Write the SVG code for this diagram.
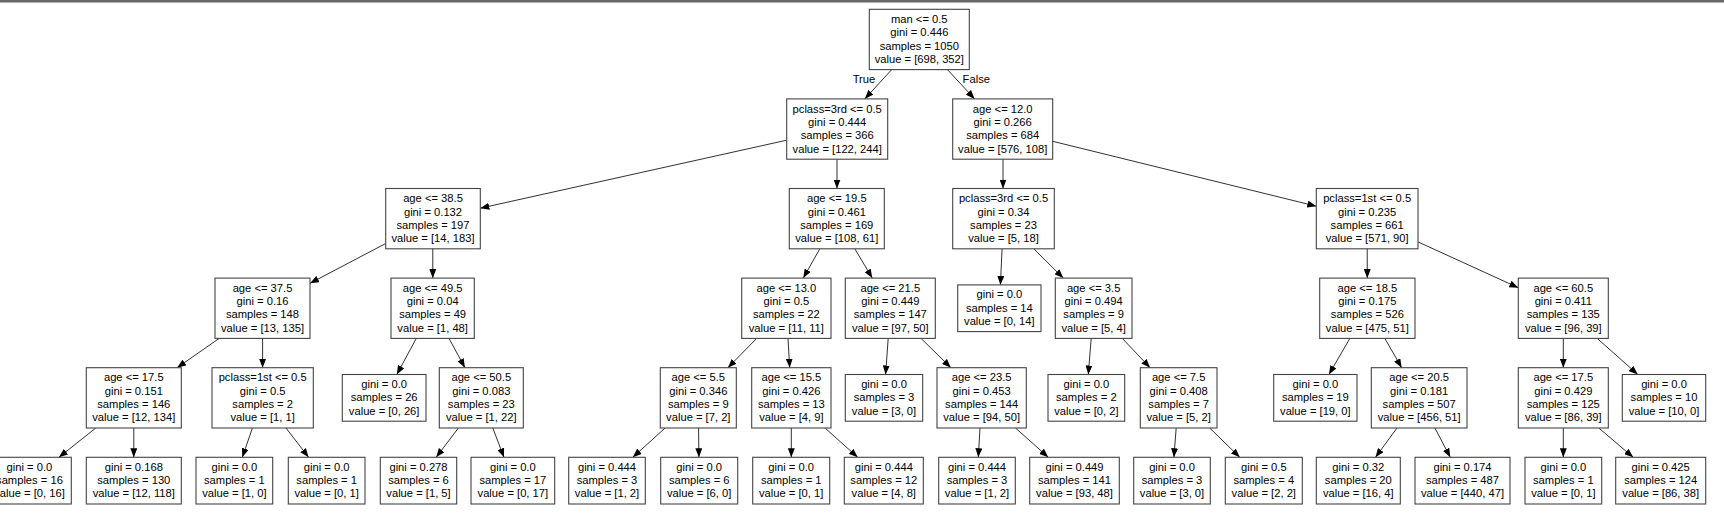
<svg xmlns="http://www.w3.org/2000/svg" width="1724" height="520" viewBox="0 0 1724 520">
<style>
.node rect{fill:#fff;stroke:#444;stroke-width:1.1}
text{font-family:"Liberation Sans",Arial,Helvetica,sans-serif;font-size:11.2px;fill:#000;text-anchor:middle}
#edges line{stroke:#1a1a1a;stroke-width:0.9;marker-end:url(#ah)}
</style>
<defs>
<marker id="ah" markerUnits="userSpaceOnUse" markerWidth="9" markerHeight="7" refX="9" refY="3.5" orient="auto"><path d="M0,0 L9,3.5 L0,7 z" fill="#000"/></marker>
</defs>
<rect x="0" y="0" width="1724" height="520" fill="#fff"/>
<rect x="0" y="0" width="1724" height="2.5" fill="#666"/>
<g id="edges">
<line x1="891.7" y1="69.6" x2="864.8" y2="98.9"/>
<line x1="947.4" y1="69.6" x2="974.6" y2="98.9"/>
<line x1="786.7" y1="140.2" x2="480.3" y2="208.2"/>
<line x1="837" y1="159.2" x2="837" y2="188.5"/>
<line x1="1003" y1="159.2" x2="1003" y2="188.5"/>
<line x1="1052.7" y1="141.3" x2="1316.3" y2="206.2"/>
<line x1="385.7" y1="243.5" x2="310" y2="283.3"/>
<line x1="432.8" y1="248.8" x2="432.8" y2="278.1"/>
<line x1="819.8" y1="248.8" x2="803.3" y2="278.1"/>
<line x1="854.8" y1="248.8" x2="872.3" y2="278.1"/>
<line x1="1002.1" y1="248.8" x2="1000.4" y2="284.9"/>
<line x1="1033.8" y1="248.8" x2="1063.3" y2="278.1"/>
<line x1="1367.2" y1="248.8" x2="1367.3" y2="278.1"/>
<line x1="1418" y1="241.9" x2="1518.3" y2="287.7"/>
<line x1="219.2" y1="338.4" x2="177.1" y2="367.7"/>
<line x1="262.6" y1="338.4" x2="262.6" y2="367.7"/>
<line x1="416.3" y1="338.4" x2="396.8" y2="374.5"/>
<line x1="449" y1="338.4" x2="464.9" y2="367.7"/>
<line x1="756.7" y1="338.4" x2="727.9" y2="367.7"/>
<line x1="788" y1="338.4" x2="789.7" y2="367.7"/>
<line x1="888.2" y1="338.4" x2="885.6" y2="374.5"/>
<line x1="921" y1="338.4" x2="950.9" y2="367.7"/>
<line x1="1091.2" y1="338.4" x2="1088.3" y2="374.5"/>
<line x1="1122.3" y1="338.4" x2="1150.1" y2="367.7"/>
<line x1="1349.9" y1="338.4" x2="1328.9" y2="374.5"/>
<line x1="1384.8" y1="338.4" x2="1401.7" y2="367.7"/>
<line x1="1563.3" y1="338.4" x2="1563.3" y2="367.7"/>
<line x1="1597.2" y1="338.4" x2="1637.8" y2="374.5"/>
<line x1="95.8" y1="428" x2="58.9" y2="457.3"/>
<line x1="133.8" y1="428" x2="133.8" y2="457.3"/>
<line x1="252.4" y1="428" x2="242.3" y2="457.3"/>
<line x1="286" y1="428" x2="308.6" y2="457.3"/>
<line x1="458.4" y1="428" x2="436.2" y2="457.3"/>
<line x1="492.8" y1="428" x2="504" y2="457.3"/>
<line x1="665.1" y1="428" x2="632.8" y2="457.3"/>
<line x1="698.6" y1="428" x2="698.9" y2="457.3"/>
<line x1="791.3" y1="428" x2="791.3" y2="457.3"/>
<line x1="825" y1="428" x2="857.7" y2="457.3"/>
<line x1="980" y1="428" x2="978.3" y2="457.3"/>
<line x1="1015.5" y1="428" x2="1048.3" y2="457.3"/>
<line x1="1176.2" y1="428" x2="1173.9" y2="457.3"/>
<line x1="1209.7" y1="428" x2="1239.8" y2="457.3"/>
<line x1="1397" y1="428" x2="1375.5" y2="457.3"/>
<line x1="1434.9" y1="428" x2="1450.3" y2="457.3"/>
<line x1="1563.3" y1="428" x2="1563.3" y2="457.3"/>
<line x1="1598.8" y1="428" x2="1633.2" y2="457.3"/>
<text x="864" y="82.7">True</text>
<text x="976.3" y="82.7">False</text>
</g>
<g id="n0" class="node"><rect x="869.3" y="9.3" width="100" height="60.3"/><text x="919.3" y="23"><tspan x="919.3">man &lt;= 0.5</tspan><tspan x="919.3" dy="13.3">gini = 0.446</tspan><tspan x="919.3" dy="13.3">samples = 1050</tspan><tspan x="919.3" dy="13.3">value = [698, 352]</tspan></text></g>
<g id="n1" class="node"><rect x="786.7" y="98.9" width="101" height="60.3"/><text x="837.2" y="112.6"><tspan x="837.2">pclass=3rd &lt;= 0.5</tspan><tspan x="837.2" dy="13.3">gini = 0.444</tspan><tspan x="837.2" dy="13.3">samples = 366</tspan><tspan x="837.2" dy="13.3">value = [122, 244]</tspan></text></g>
<g id="n2" class="node"><rect x="952.7" y="98.9" width="100" height="60.3"/><text x="1002.7" y="112.6"><tspan x="1002.7">age &lt;= 12.0</tspan><tspan x="1002.7" dy="13.3">gini = 0.266</tspan><tspan x="1002.7" dy="13.3">samples = 684</tspan><tspan x="1002.7" dy="13.3">value = [576, 108]</tspan></text></g>
<g id="n3" class="node"><rect x="385.7" y="188.5" width="94.6" height="60.3"/><text x="433" y="202.2"><tspan x="433">age &lt;= 38.5</tspan><tspan x="433" dy="13.3">gini = 0.132</tspan><tspan x="433" dy="13.3">samples = 197</tspan><tspan x="433" dy="13.3">value = [14, 183]</tspan></text></g>
<g id="n4" class="node"><rect x="789.3" y="188.5" width="95" height="60.3"/><text x="836.8" y="202.2"><tspan x="836.8">age &lt;= 19.5</tspan><tspan x="836.8" dy="13.3">gini = 0.461</tspan><tspan x="836.8" dy="13.3">samples = 169</tspan><tspan x="836.8" dy="13.3">value = [108, 61]</tspan></text></g>
<g id="n5" class="node"><rect x="952.7" y="188.5" width="101.6" height="60.3"/><text x="1003.5" y="202.2"><tspan x="1003.5">pclass=3rd &lt;= 0.5</tspan><tspan x="1003.5" dy="13.3">gini = 0.34</tspan><tspan x="1003.5" dy="13.3">samples = 23</tspan><tspan x="1003.5" dy="13.3">value = [5, 18]</tspan></text></g>
<g id="n6" class="node"><rect x="1316.3" y="188.5" width="101.7" height="60.3"/><text x="1367.15" y="202.2"><tspan x="1367.15">pclass=1st &lt;= 0.5</tspan><tspan x="1367.15" dy="13.3">gini = 0.235</tspan><tspan x="1367.15" dy="13.3">samples = 661</tspan><tspan x="1367.15" dy="13.3">value = [571, 90]</tspan></text></g>
<g id="n7" class="node"><rect x="215" y="278.1" width="95" height="60.3"/><text x="262.5" y="291.8"><tspan x="262.5">age &lt;= 37.5</tspan><tspan x="262.5" dy="13.3">gini = 0.16</tspan><tspan x="262.5" dy="13.3">samples = 148</tspan><tspan x="262.5" dy="13.3">value = [13, 135]</tspan></text></g>
<g id="n8" class="node"><rect x="391" y="278.1" width="83.3" height="60.3"/><text x="432.65" y="291.8"><tspan x="432.65">age &lt;= 49.5</tspan><tspan x="432.65" dy="13.3">gini = 0.04</tspan><tspan x="432.65" dy="13.3">samples = 49</tspan><tspan x="432.65" dy="13.3">value = [1, 48]</tspan></text></g>
<g id="n9" class="node"><rect x="741.7" y="278.1" width="89.3" height="60.3"/><text x="786.35" y="291.8"><tspan x="786.35">age &lt;= 13.0</tspan><tspan x="786.35" dy="13.3">gini = 0.5</tspan><tspan x="786.35" dy="13.3">samples = 22</tspan><tspan x="786.35" dy="13.3">value = [11, 11]</tspan></text></g>
<g id="n10" class="node"><rect x="845.3" y="278.1" width="90" height="60.3"/><text x="890.3" y="291.8"><tspan x="890.3">age &lt;= 21.5</tspan><tspan x="890.3" dy="13.3">gini = 0.449</tspan><tspan x="890.3" dy="13.3">samples = 147</tspan><tspan x="890.3" dy="13.3">value = [97, 50]</tspan></text></g>
<g id="n11" class="node"><rect x="957.7" y="284.9" width="83.3" height="46.7"/><text x="999.35" y="298.4"><tspan x="999.35">gini = 0.0</tspan><tspan x="999.35" dy="13.3">samples = 14</tspan><tspan x="999.35" dy="13.3">value = [0, 14]</tspan></text></g>
<g id="n12" class="node"><rect x="1055.3" y="278.1" width="76.7" height="60.3"/><text x="1093.65" y="291.8"><tspan x="1093.65">age &lt;= 3.5</tspan><tspan x="1093.65" dy="13.3">gini = 0.494</tspan><tspan x="1093.65" dy="13.3">samples = 9</tspan><tspan x="1093.65" dy="13.3">value = [5, 4]</tspan></text></g>
<g id="n13" class="node"><rect x="1319.7" y="278.1" width="95.3" height="60.3"/><text x="1367.35" y="291.8"><tspan x="1367.35">age &lt;= 18.5</tspan><tspan x="1367.35" dy="13.3">gini = 0.175</tspan><tspan x="1367.35" dy="13.3">samples = 526</tspan><tspan x="1367.35" dy="13.3">value = [475, 51]</tspan></text></g>
<g id="n14" class="node"><rect x="1518.3" y="278.1" width="90" height="60.3"/><text x="1563.3" y="291.8"><tspan x="1563.3">age &lt;= 60.5</tspan><tspan x="1563.3" dy="13.3">gini = 0.411</tspan><tspan x="1563.3" dy="13.3">samples = 135</tspan><tspan x="1563.3" dy="13.3">value = [96, 39]</tspan></text></g>
<g id="n15" class="node"><rect x="86.3" y="367.7" width="95" height="60.3"/><text x="133.8" y="381.4"><tspan x="133.8">age &lt;= 17.5</tspan><tspan x="133.8" dy="13.3">gini = 0.151</tspan><tspan x="133.8" dy="13.3">samples = 146</tspan><tspan x="133.8" dy="13.3">value = [12, 134]</tspan></text></g>
<g id="n16" class="node"><rect x="212" y="367.7" width="101.3" height="60.3"/><text x="262.65" y="381.4"><tspan x="262.65">pclass=1st &lt;= 0.5</tspan><tspan x="262.65" dy="13.3">gini = 0.5</tspan><tspan x="262.65" dy="13.3">samples = 2</tspan><tspan x="262.65" dy="13.3">value = [1, 1]</tspan></text></g>
<g id="n17" class="node"><rect x="342.3" y="374.5" width="83.7" height="46.7"/><text x="384.15" y="388"><tspan x="384.15">gini = 0.0</tspan><tspan x="384.15" dy="13.3">samples = 26</tspan><tspan x="384.15" dy="13.3">value = [0, 26]</tspan></text></g>
<g id="n18" class="node"><rect x="439.3" y="367.7" width="84" height="60.3"/><text x="481.3" y="381.4"><tspan x="481.3">age &lt;= 50.5</tspan><tspan x="481.3" dy="13.3">gini = 0.083</tspan><tspan x="481.3" dy="13.3">samples = 23</tspan><tspan x="481.3" dy="13.3">value = [1, 22]</tspan></text></g>
<g id="n19" class="node"><rect x="660.3" y="367.7" width="76" height="60.3"/><text x="698.3" y="381.4"><tspan x="698.3">age &lt;= 5.5</tspan><tspan x="698.3" dy="13.3">gini = 0.346</tspan><tspan x="698.3" dy="13.3">samples = 9</tspan><tspan x="698.3" dy="13.3">value = [7, 2]</tspan></text></g>
<g id="n20" class="node"><rect x="751.7" y="367.7" width="79.3" height="60.3"/><text x="791.35" y="381.4"><tspan x="791.35">age &lt;= 15.5</tspan><tspan x="791.35" dy="13.3">gini = 0.426</tspan><tspan x="791.35" dy="13.3">samples = 13</tspan><tspan x="791.35" dy="13.3">value = [4, 9]</tspan></text></g>
<g id="n21" class="node"><rect x="845.3" y="374.5" width="77.4" height="46.7"/><text x="884" y="388"><tspan x="884">gini = 0.0</tspan><tspan x="884" dy="13.3">samples = 3</tspan><tspan x="884" dy="13.3">value = [3, 0]</tspan></text></g>
<g id="n22" class="node"><rect x="937" y="367.7" width="89.3" height="60.3"/><text x="981.65" y="381.4"><tspan x="981.65">age &lt;= 23.5</tspan><tspan x="981.65" dy="13.3">gini = 0.453</tspan><tspan x="981.65" dy="13.3">samples = 144</tspan><tspan x="981.65" dy="13.3">value = [94, 50]</tspan></text></g>
<g id="n23" class="node"><rect x="1048" y="374.5" width="76.7" height="46.7"/><text x="1086.35" y="388"><tspan x="1086.35">gini = 0.0</tspan><tspan x="1086.35" dy="13.3">samples = 2</tspan><tspan x="1086.35" dy="13.3">value = [0, 2]</tspan></text></g>
<g id="n24" class="node"><rect x="1140.3" y="367.7" width="76.7" height="60.3"/><text x="1178.65" y="381.4"><tspan x="1178.65">age &lt;= 7.5</tspan><tspan x="1178.65" dy="13.3">gini = 0.408</tspan><tspan x="1178.65" dy="13.3">samples = 7</tspan><tspan x="1178.65" dy="13.3">value = [5, 2]</tspan></text></g>
<g id="n25" class="node"><rect x="1273.7" y="374.5" width="83.3" height="46.7"/><text x="1315.35" y="388"><tspan x="1315.35">gini = 0.0</tspan><tspan x="1315.35" dy="13.3">samples = 19</tspan><tspan x="1315.35" dy="13.3">value = [19, 0]</tspan></text></g>
<g id="n26" class="node"><rect x="1371.3" y="367.7" width="95.7" height="60.3"/><text x="1419.15" y="381.4"><tspan x="1419.15">age &lt;= 20.5</tspan><tspan x="1419.15" dy="13.3">gini = 0.181</tspan><tspan x="1419.15" dy="13.3">samples = 507</tspan><tspan x="1419.15" dy="13.3">value = [456, 51]</tspan></text></g>
<g id="n27" class="node"><rect x="1518.3" y="367.7" width="90" height="60.3"/><text x="1563.3" y="381.4"><tspan x="1563.3">age &lt;= 17.5</tspan><tspan x="1563.3" dy="13.3">gini = 0.429</tspan><tspan x="1563.3" dy="13.3">samples = 125</tspan><tspan x="1563.3" dy="13.3">value = [86, 39]</tspan></text></g>
<g id="n28" class="node"><rect x="1622.3" y="374.5" width="83.4" height="46.7"/><text x="1664" y="388"><tspan x="1664">gini = 0.0</tspan><tspan x="1664" dy="13.3">samples = 10</tspan><tspan x="1664" dy="13.3">value = [10, 0]</tspan></text></g>
<g id="l1" class="node"><rect x="-12.4" y="457.3" width="83.7" height="46.7"/><text x="29.45" y="470.8"><tspan x="29.45">gini = 0.0</tspan><tspan x="29.45" dy="13.3">samples = 16</tspan><tspan x="29.45" dy="13.3">value = [0, 16]</tspan></text></g>
<g id="l2" class="node"><rect x="86.3" y="457.3" width="95" height="46.7"/><text x="133.8" y="470.8"><tspan x="133.8">gini = 0.168</tspan><tspan x="133.8" dy="13.3">samples = 130</tspan><tspan x="133.8" dy="13.3">value = [12, 118]</tspan></text></g>
<g id="l3" class="node"><rect x="196" y="457.3" width="76.7" height="46.7"/><text x="234.35" y="470.8"><tspan x="234.35">gini = 0.0</tspan><tspan x="234.35" dy="13.3">samples = 1</tspan><tspan x="234.35" dy="13.3">value = [1, 0]</tspan></text></g>
<g id="l4" class="node"><rect x="288.3" y="457.3" width="76.7" height="46.7"/><text x="326.65" y="470.8"><tspan x="326.65">gini = 0.0</tspan><tspan x="326.65" dy="13.3">samples = 1</tspan><tspan x="326.65" dy="13.3">value = [0, 1]</tspan></text></g>
<g id="l5" class="node"><rect x="380.3" y="457.3" width="76.4" height="46.7"/><text x="418.5" y="470.8"><tspan x="418.5">gini = 0.278</tspan><tspan x="418.5" dy="13.3">samples = 6</tspan><tspan x="418.5" dy="13.3">value = [1, 5]</tspan></text></g>
<g id="l6" class="node"><rect x="471" y="457.3" width="83.7" height="46.7"/><text x="512.85" y="470.8"><tspan x="512.85">gini = 0.0</tspan><tspan x="512.85" dy="13.3">samples = 17</tspan><tspan x="512.85" dy="13.3">value = [0, 17]</tspan></text></g>
<g id="l7" class="node"><rect x="568.7" y="457.3" width="76.6" height="46.7"/><text x="607" y="470.8"><tspan x="607">gini = 0.444</tspan><tspan x="607" dy="13.3">samples = 3</tspan><tspan x="607" dy="13.3">value = [1, 2]</tspan></text></g>
<g id="l8" class="node"><rect x="660.7" y="457.3" width="77" height="46.7"/><text x="699.2" y="470.8"><tspan x="699.2">gini = 0.0</tspan><tspan x="699.2" dy="13.3">samples = 6</tspan><tspan x="699.2" dy="13.3">value = [6, 0]</tspan></text></g>
<g id="l9" class="node"><rect x="752.7" y="457.3" width="77" height="46.7"/><text x="791.2" y="470.8"><tspan x="791.2">gini = 0.0</tspan><tspan x="791.2" dy="13.3">samples = 1</tspan><tspan x="791.2" dy="13.3">value = [0, 1]</tspan></text></g>
<g id="l10" class="node"><rect x="844.3" y="457.3" width="79" height="46.7"/><text x="883.8" y="470.8"><tspan x="883.8">gini = 0.444</tspan><tspan x="883.8" dy="13.3">samples = 12</tspan><tspan x="883.8" dy="13.3">value = [4, 8]</tspan></text></g>
<g id="l11" class="node"><rect x="938.7" y="457.3" width="76.6" height="46.7"/><text x="977" y="470.8"><tspan x="977">gini = 0.444</tspan><tspan x="977" dy="13.3">samples = 3</tspan><tspan x="977" dy="13.3">value = [1, 2]</tspan></text></g>
<g id="l12" class="node"><rect x="1029.7" y="457.3" width="89.6" height="46.7"/><text x="1074.5" y="470.8"><tspan x="1074.5">gini = 0.449</tspan><tspan x="1074.5" dy="13.3">samples = 141</tspan><tspan x="1074.5" dy="13.3">value = [93, 48]</tspan></text></g>
<g id="l13" class="node"><rect x="1133.7" y="457.3" width="76.6" height="46.7"/><text x="1172" y="470.8"><tspan x="1172">gini = 0.0</tspan><tspan x="1172" dy="13.3">samples = 3</tspan><tspan x="1172" dy="13.3">value = [3, 0]</tspan></text></g>
<g id="l14" class="node"><rect x="1225.3" y="457.3" width="77" height="46.7"/><text x="1263.8" y="470.8"><tspan x="1263.8">gini = 0.5</tspan><tspan x="1263.8" dy="13.3">samples = 4</tspan><tspan x="1263.8" dy="13.3">value = [2, 2]</tspan></text></g>
<g id="l15" class="node"><rect x="1316.3" y="457.3" width="84" height="46.7"/><text x="1358.3" y="470.8"><tspan x="1358.3">gini = 0.32</tspan><tspan x="1358.3" dy="13.3">samples = 20</tspan><tspan x="1358.3" dy="13.3">value = [16, 4]</tspan></text></g>
<g id="l16" class="node"><rect x="1415" y="457.3" width="95" height="46.7"/><text x="1462.5" y="470.8"><tspan x="1462.5">gini = 0.174</tspan><tspan x="1462.5" dy="13.3">samples = 487</tspan><tspan x="1462.5" dy="13.3">value = [440, 47]</tspan></text></g>
<g id="l17" class="node"><rect x="1525" y="457.3" width="76.7" height="46.7"/><text x="1563.35" y="470.8"><tspan x="1563.35">gini = 0.0</tspan><tspan x="1563.35" dy="13.3">samples = 1</tspan><tspan x="1563.35" dy="13.3">value = [0, 1]</tspan></text></g>
<g id="l18" class="node"><rect x="1615.7" y="457.3" width="90" height="46.7"/><text x="1660.7" y="470.8"><tspan x="1660.7">gini = 0.425</tspan><tspan x="1660.7" dy="13.3">samples = 124</tspan><tspan x="1660.7" dy="13.3">value = [86, 38]</tspan></text></g>
</svg>
